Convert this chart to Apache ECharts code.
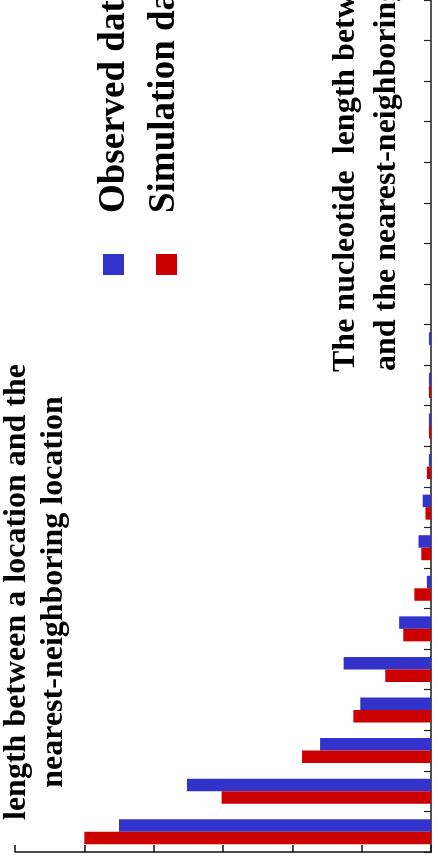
<!DOCTYPE html>
<html>
<head>
<meta charset="utf-8">
<script src="https://cdn.jsdelivr.net/npm/echarts@6/dist/echarts.min.js"></script>
<style>
  html, body { margin: 0; padding: 0; background: #fff; overflow: hidden; }
  #chart { width: 438px; height: 866px; }
</style>
</head>
<body>
<div id="chart"></div>
<script>
// bins, first one at the bottom (chart is drawn turned on its side)
var categories = ['1', '2', '3', '4', '5', '6', '7', '8', '9', '10', '11',
  '12', '13', '14', '15', '16', '17', '18', '19', '20', '21'];
var observed = [22.5, 17.6, 8.0, 5.1, 6.3, 2.3, 0.3, 0.9, 0.6, 0.15, 0.15,
  0.15, 0.15, 0, 0, 0, 0, 0, 0, 0, 0];
var simulation = [25.0, 15.1, 9.3, 5.6, 3.3, 2.0, 1.2, 0.7, 0.4, 0.3, 0.15,
  0.15, 0, 0, 0, 0, 0, 0, 0, 0, 0];
var seriesNames = ['Observed data', 'Simulation data'];
var valueMax = 30;
var valueStep = 5;
var valueTitle = ['length between a location and the', 'nearest-neighboring location'];
var categoryTitle = ['The nucleotide  length between a location', 'and the nearest-neighboring location'];

var serif = '"Liberation Serif", "Times New Roman", serif';
var turn = Math.PI / 2;

function sideText(x, y, text, align, size) {
  return {
    type: 'text',
    x: x,
    y: y,
    rotation: turn,
    style: {
      text: text,
      fontFamily: serif,
      fontWeight: 'bold',
      fontSize: size,
      fill: '#000',
      align: align,
      verticalAlign: 'middle'
    }
  };
}

var chart = echarts.init(document.getElementById('chart'), null, { renderer: 'canvas' });

var option = {
  animation: false,
  grid: { left: 15, right: 7, top: 0, bottom: 14 },
  xAxis: {
    type: 'value',
    inverse: true,
    min: 0,
    max: valueMax,
    interval: valueStep,
    position: 'bottom',
    splitLine: { show: false },
    axisLine: { show: true, lineStyle: { color: '#111', width: 1.5 } },
    axisTick: { show: true, inside: true, length: 7, lineStyle: { color: '#111', width: 1.5 } },
    axisLabel: { show: false }
  },
  yAxis: {
    type: 'category',
    data: categories,
    position: 'right',
    axisLine: { show: true, lineStyle: { color: '#555', width: 2 } },
    axisTick: { show: true, inside: true, length: 7, lineStyle: { color: '#222', width: 1.2 } },
    axisLabel: { show: false }
  },
  series: [
    {
      name: seriesNames[0],
      type: 'bar',
      data: observed,
      barWidth: 12.5,
      barGap: '0%',
      itemStyle: { color: '#3333cc' }
    },
    {
      name: seriesNames[1],
      type: 'bar',
      data: simulation,
      barWidth: 12.5,
      barGap: '0%',
      itemStyle: { color: '#cc0000' }
    }
  ],
  graphic: [
    sideText(17, 592, valueTitle[0], 'center', 32),
    sideText(54, 592, valueTitle[1], 'center', 32),
    sideText(346, 372, categoryTitle[0], 'left', 32),
    sideText(387, 371, categoryTitle[1], 'left', 32),
    { type: 'rect', shape: { x: 103, y: 254, width: 21, height: 21 }, style: { fill: '#3333cc' } },
    { type: 'rect', shape: { x: 156, y: 254, width: 21, height: 21 }, style: { fill: '#cc0000' } },
    sideText(114, 213, seriesNames[0], 'left', 37),
    sideText(164, 213, seriesNames[1], 'left', 37)
  ]
};

chart.setOption(option);
</script>
</body>
</html>
